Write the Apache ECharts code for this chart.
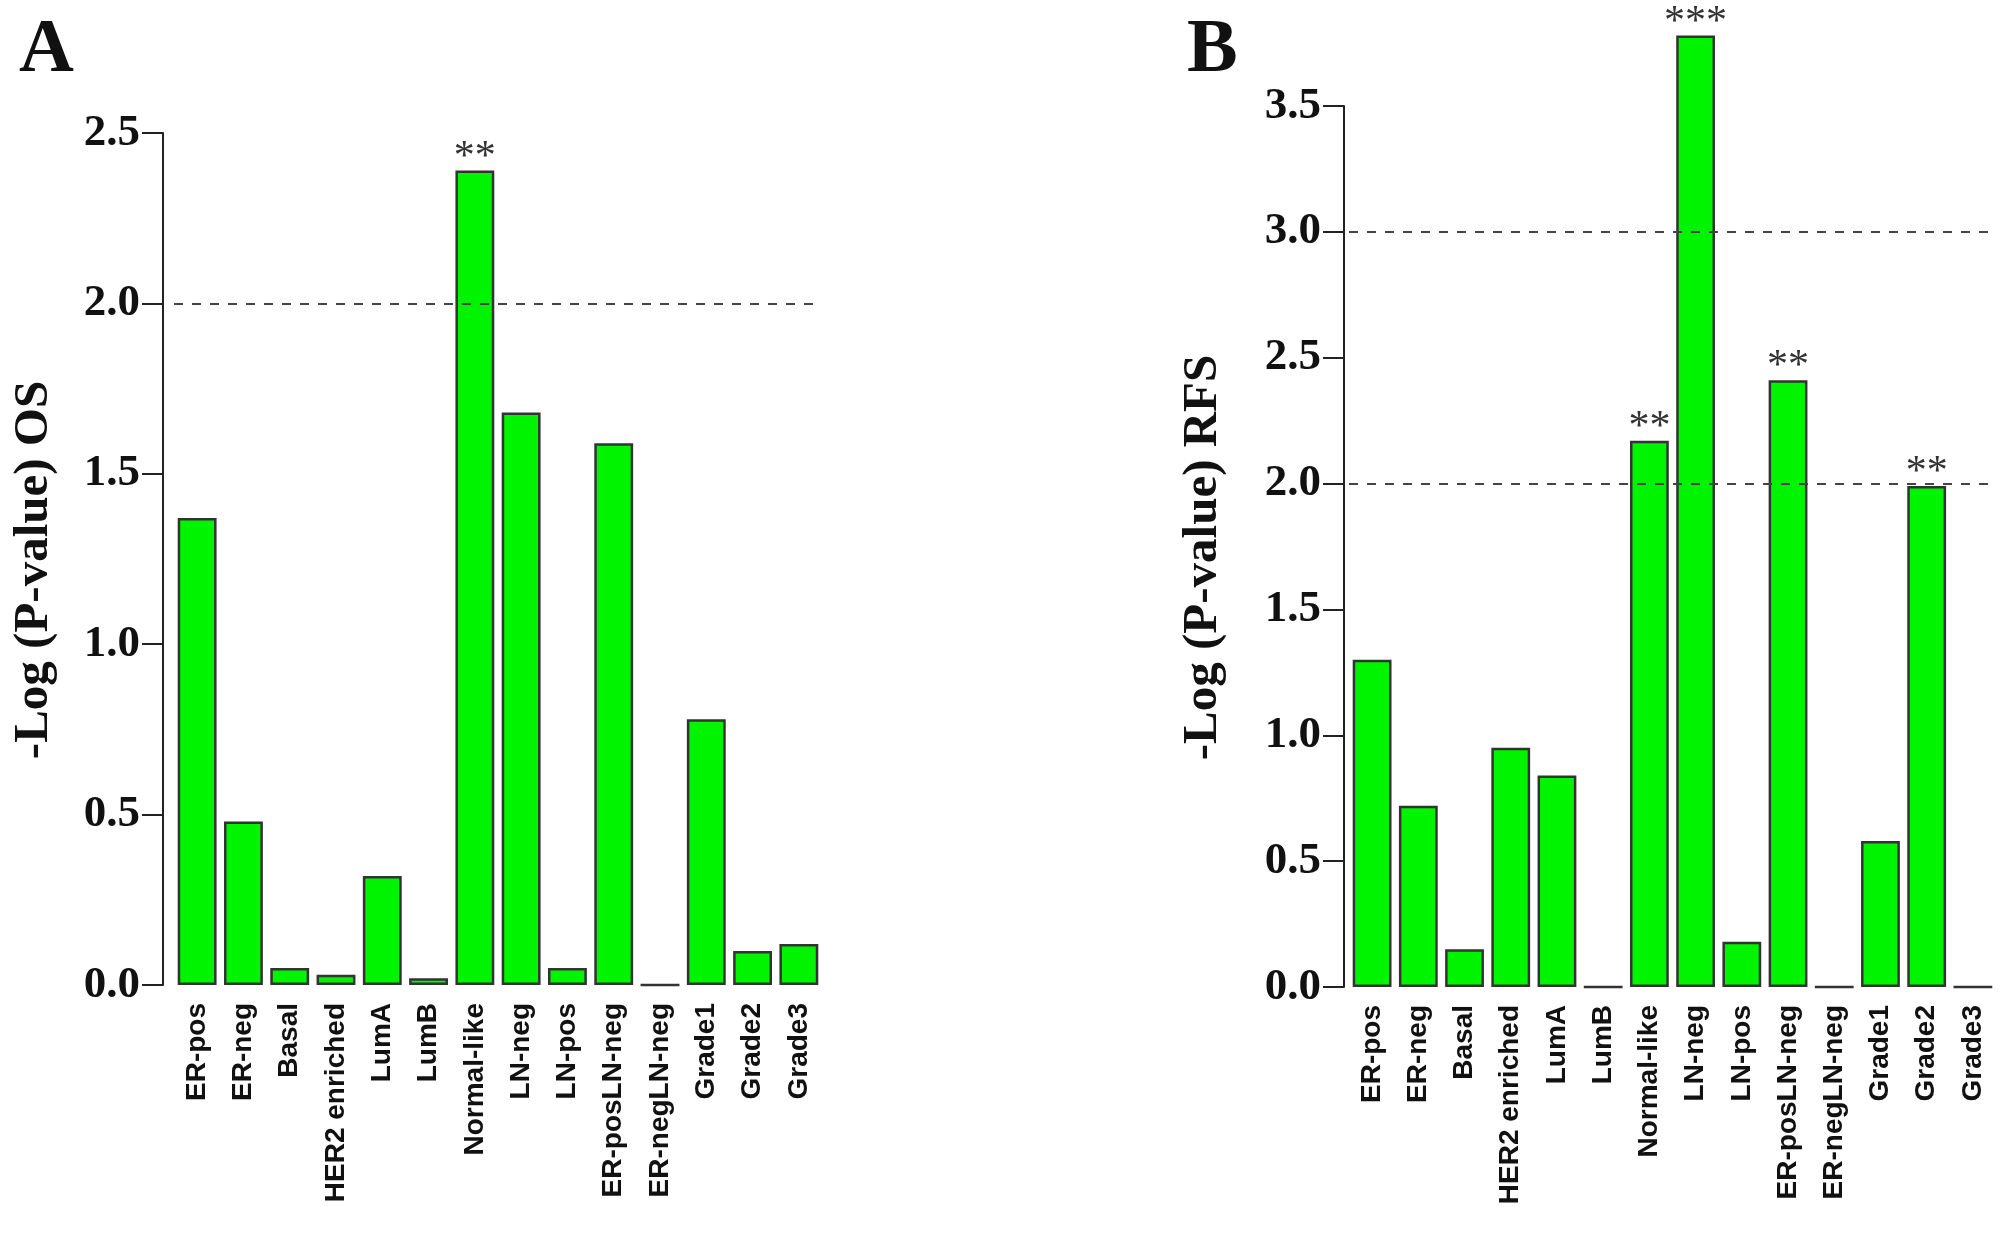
<!DOCTYPE html>
<html>
<head>
<meta charset="utf-8">
<script src="https://cdn.jsdelivr.net/npm/echarts@6/dist/echarts.min.js"></script>
<style>
html,body{margin:0;padding:0;background:#fff;}
#main{width:2008px;height:1253px;}
</style>
</head>
<body>
<div id="main"></div>
<script>
const categories = ['ER-pos','ER-neg','Basal','HER2 enriched','LumA','LumB','Normal-like','LN-neg','LN-pos','ER-posLN-neg','ER-negLN-neg','Grade1','Grade2','Grade3'];
const osValues  = [1.37, 0.48, 0.05, 0.03, 0.32, 0.02, 2.39, 1.68, 0.05, 1.59, 0, 0.78, 0.10, 0.12];
const rfsValues = [1.30, 0.72, 0.15, 0.95, 0.84, 0, 2.17, 3.78, 0.18, 2.41, 0, 0.58, 1.99, 0];
const osStars  = ['','','','','','','**','','','','','','',''];
const rfsStars = ['','','','','','','**','***','','**','','','**',''];
const osTicks  = [0, 0.5, 1.0, 1.5, 2.0, 2.5];
const rfsTicks = [0, 0.5, 1.0, 1.5, 2.0, 2.5, 3.0, 3.5];
const osThresholds  = [2.0];
const rfsThresholds = [3.0, 2.0];

const serif = "'Liberation Serif', 'Times New Roman', serif";
const sans = "'Liberation Sans', Arial, sans-serif";

function yAxisCfg(gridIndex, ticks, name, offset, gap) {
  return {
    type: 'value', gridIndex: gridIndex,
    min: ticks[0], max: ticks[ticks.length - 1], interval: 0.5,
    offset: offset,
    name: name, nameLocation: 'middle', nameRotate: 90, nameGap: gap,
    nameTextStyle: { fontFamily: serif, fontWeight: 'bold', fontSize: 49, color: '#111', padding: [0, 22, 0, 0] },
    axisLine: { show: true, lineStyle: { color: '#222', width: 2 } },
    axisTick: { show: true, length: 21, lineStyle: { color: '#222', width: 2 } },
    axisLabel: { fontFamily: serif, fontWeight: 'bold', fontSize: 45, color: '#111', margin: 23,
      formatter: v => v.toFixed(1) },
    splitLine: { show: false }
  };
}
function xAxisCfg(gridIndex) {
  return {
    type: 'category', gridIndex: gridIndex, data: categories,
    axisLine: { show: false }, axisTick: { show: false },
    axisLabel: { interval: 0, rotate: 90, fontFamily: sans, fontWeight: 'bold', fontSize: 28, color: '#111', margin: 18 }
  };
}
function barSeries(idx, values, stars, thresholds) {
  return {
    type: 'bar', xAxisIndex: idx, yAxisIndex: idx,
    barWidth: '84%', clip: false,
    data: values.map((v, i) => ({
      value: v,
      label: { show: stars[i] !== '', formatter: stars[i] }
    })),
    itemStyle: { color: '#00f400', borderColor: '#333', borderWidth: 2.5 },
    label: { position: 'top', distance: -8, fontFamily: serif, fontSize: 42, color: '#333' },
    markLine: {
      silent: true, symbol: 'none', animation: false,
      label: { show: false },
      lineStyle: { type: [9, 9], color: '#444', width: 2 },
      data: thresholds.map(t => ({ yAxis: t }))
    },
    animation: false
  };
}

const chart = echarts.init(document.getElementById('main'));
chart.setOption({
  animation: false,
  backgroundColor: '#fff',
  title: [
    { text: 'A', left: 14, top: 8, textStyle: { fontFamily: serif, fontWeight: 'bold', fontSize: 76, color: '#111' } },
    { text: 'B', left: 1182, top: 8, textStyle: { fontFamily: serif, fontWeight: 'bold', fontSize: 76, color: '#111' } }
  ],
  grid: [
    { left: 174, right: 1186, top: 133, bottom: 268 },
    { left: 1349, right: 12, top: 106, bottom: 266 }
  ],
  xAxis: [xAxisCfg(0), xAxisCfg(1)],
  yAxis: [yAxisCfg(0, osTicks, '-Log (P-value) OS', 11, 104), yAxisCfg(1, rfsTicks, '-Log (P-value) RFS', 5, 116)],
  series: [barSeries(0, osValues, osStars, osThresholds), barSeries(1, rfsValues, rfsStars, rfsThresholds)]
});
</script>
</body>
</html>
